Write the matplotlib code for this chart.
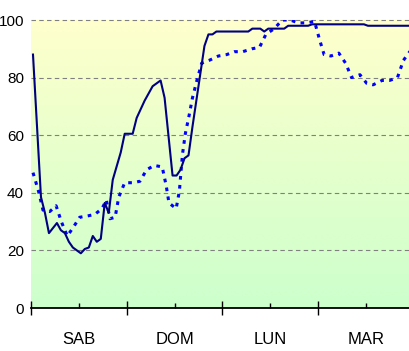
import matplotlib
matplotlib.use("Agg")
import matplotlib.pyplot as plt
import numpy as np
from matplotlib import font_manager
from matplotlib.colors import LinearSegmentedColormap

# Series sampled over four days (x in hours from start of SAB)
solid_hours = [0.5, 2.5, 3.5, 4.5, 6.5, 7.5, 8.5, 9.5, 10.5, 12.5, 13.5, 14.5,
               15.5, 16.5, 17.5, 18.5, 19.5, 20.5, 22.5, 23.5, 25.5, 26.5, 28.5,
               30.5, 32.5, 33.5, 35.5, 36.5, 37.5, 38.5, 39.5, 40.5, 43.5, 44.5,
               45.5, 46.5, 54.5, 55.5, 57.5, 58.5, 59.5, 60.5, 63.5, 64.5, 69.5,
               70.5, 83.5, 84.5, 95.5]
solid_values = [88, 38.5, 33, 26, 29.5, 27, 26, 23, 21, 19, 20.5, 21,
                25, 23, 24, 36.5, 33, 44.5, 54, 60.5, 60.5, 66, 72,
                77, 79, 73, 46, 46, 48, 52, 53, 63, 91, 95,
                95, 96, 96, 97, 97, 96, 97, 97, 97, 98, 98,
                98.5, 98.5, 98, 98]

dashed_hours = [0.5, 1.9, 3.0, 4.7, 6.3, 7.6, 9.1, 10.6, 12.2, 14.3, 16.0, 17.8,
                18.9, 19.8, 21.1, 22.0, 23.5, 25.6, 27.3, 29.0, 30.9, 32.9, 33.9,
                34.6, 36.4, 37.2, 38.0, 38.7, 39.6, 40.5, 41.6, 42.8, 44.7, 47.0,
                49.1, 51.0, 53.1, 55.4, 57.3, 58.9, 61.0, 63.0, 65.0, 67.0, 69.0,
                71.1, 72.3, 73.5, 75.2, 77.2, 78.9, 80.4, 82.5, 84.2, 85.8, 88.0,
                89.9, 91.9, 93.4, 95.5]
dashed_values = [47, 40.5, 34, 33.5, 35.5, 30, 25, 28, 31.5, 32, 32.5, 34.5,
                 37.5, 31, 31.5, 38.5, 43.5, 43.5, 44, 48, 49.5, 49, 42.5,
                 36.5, 34.5, 40.5, 53.5, 60.5, 66.5, 73, 79, 85, 86, 87.5,
                 88, 89, 89, 90, 90.5, 95, 97, 100, 100, 99, 99,
                 99.5, 93.5, 88, 87.5, 88.5, 85, 80, 81, 78, 77.5, 79,
                 79, 80, 86, 90]

day_labels = ["SAB", "DOM", "LUN", "MAR"]
y_ticks = [0, 20, 40, 60, 80, 100]

# Condensed font if available
def pick_font():
    for name in ["Liberation Sans Narrow", "DejaVu Sans Condensed", "Liberation Sans"]:
        try:
            font_manager.findfont(name, fallback_to_default=False)
            return name
        except Exception:
            continue
    return "DejaVu Sans"

font_name = pick_font()
plt.rcParams["font.family"] = [font_name, "DejaVu Sans"]

W, H = 409, 351
fig = plt.figure(figsize=(W / 100, H / 100), dpi=100)
ax = fig.add_axes([31 / W, 1 - 308 / H, 1 - 31 / W, (308 - 20) / H])

x_max = (W - 31) / 95.7 * 24
ax.set_xlim(0, x_max)
ax.set_ylim(0, 100)

# Yellow-to-green background gradient
cmap = LinearSegmentedColormap.from_list("bg", ["#CCFFCC", "#FFFFCC"])
grad = np.linspace(0, 1, 256).reshape(-1, 1)
ax.imshow(grad, extent=[0, x_max, 0, 100], origin="lower", aspect="auto",
          cmap=cmap, zorder=0, interpolation="bilinear")

# Horizontal dashed grid
for yv in y_ticks[1:]:
    ax.axhline(yv, color="#808080", lw=0.8, dashes=(4, 3), zorder=1, clip_on=False)

ax.plot(dashed_hours, dashed_values, color="#0000FF", lw=2.2,
        dashes=(1.2, 1.75), solid_capstyle="butt", dash_capstyle="butt", zorder=3)
ax.plot(solid_hours, solid_values, color="#000080", lw=1.5, zorder=4)

for s in ["top", "right", "left"]:
    ax.spines[s].set_visible(False)
ax.spines["bottom"].set_linewidth(1.3)
ax.spines["bottom"].set_color("black")
ax.spines["bottom"].set_zorder(5)

ax.set_yticks(y_ticks)
ax.set_yticklabels([str(v) for v in y_ticks])
ax.tick_params(axis="y", length=0, pad=5, labelsize=11)

ax.set_xticks([0, 24, 48, 72])
ax.set_xticklabels([])
ax.set_xticks([12, 36, 60, 84], minor=True)
ax.set_xticklabels(day_labels, minor=True)
ax.tick_params(axis="x", which="major", direction="inout", length=10, width=1.0, color="black")
ax.tick_params(axis="x", which="minor", direction="in", length=3.6, width=1.0,
               color="black", pad=17, labelsize=12)

fig.savefig("out.png", dpi=100)
